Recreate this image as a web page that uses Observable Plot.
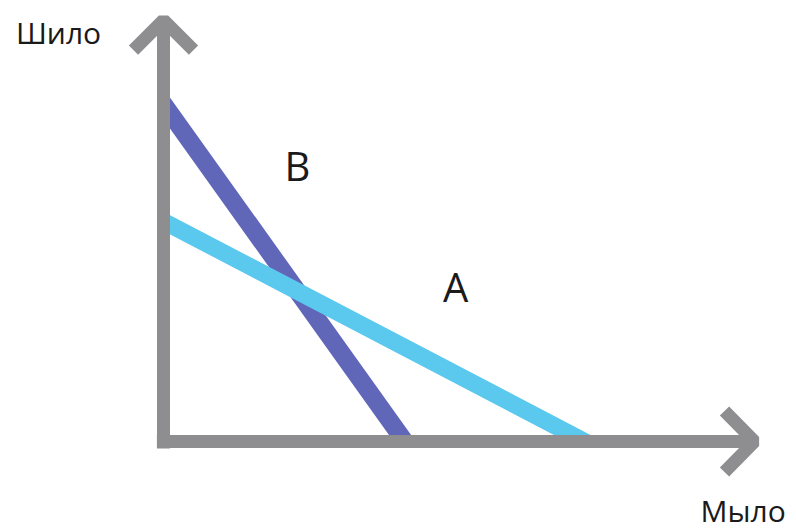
<!DOCTYPE html>
<html>
<head>
<meta charset="utf-8">
<script src="https://cdn.jsdelivr.net/npm/d3@7"></script>
<script src="https://cdn.jsdelivr.net/npm/@observablehq/plot@0.6"></script>
<style>
  html, body { margin: 0; padding: 0; background: #ffffff; }
  #chart svg { display: block; }
</style>
</head>
<body>
<div id="chart"></div>
<script>
// Budget lines (conceptual units): "B" and "A"
const lineB = [{x: -0.3, y: 8.3}, {x: 0, y: 7.85}, {x: 4.02, y: 0}, {x: 4.12, y: -0.2}];
const lineA = [{x: -0.3, y: 5.33}, {x: 0, y: 5.12}, {x: 7.02, y: 0}, {x: 7.22, y: -0.15}];

// Axis arrows
const yAxisShaft = [{x: 0, y: -0.16}, {x: 0, y: 9.8}];
const yAxisHead  = [{x: -0.5, y: 9.1}, {x: 0, y: 9.8}, {x: 0.5, y: 9.1}];
const xAxisShaft = [{x: -0.11, y: 0}, {x: 9.85, y: 0}];
const xAxisHead  = [{x: 9.35, y: 0.71}, {x: 9.85, y: 0}, {x: 9.35, y: -0.71}];

// Labels
const lineLabels = [{x: 2.23, y: 6.36, text: "B"}, {x: 4.87, y: 3.55, text: "A"}];
const axisLabels = [{x: -1.75, y: 9.46, text: "Шило"}, {x: 9.66, y: -1.66, text: "Мыло"}];

const colorB = "#6066b8";
const colorA = "#5bc8ee";
const axisGrey = "#8e8e91";

const chart = Plot.plot({
  width: 796,
  height: 531,
  marginLeft: 163,
  marginRight: 33,
  marginTop: 11,
  marginBottom: 90,
  x: {domain: [0, 10], axis: null},
  y: {domain: [0, 10], axis: null},
  style: {fontFamily: "'Open Sans', sans-serif", background: "#ffffff"},
  marks: [
    Plot.line(lineB, {x: "x", y: "y", stroke: colorB, strokeWidth: 18, clip: true}),
    Plot.line(lineA, {x: "x", y: "y", stroke: colorA, strokeWidth: 17, clip: true}),
    Plot.line(yAxisShaft, {x: "x", y: "y", stroke: axisGrey, strokeWidth: 13, strokeLinecap: "butt"}),
    Plot.line(xAxisShaft, {x: "x", y: "y", stroke: axisGrey, strokeWidth: 13, strokeLinecap: "butt"}),
    Plot.line(yAxisHead, {x: "x", y: "y", stroke: axisGrey, strokeWidth: 13, strokeLinejoin: "miter", strokeLinecap: "butt"}),
    Plot.line(xAxisHead, {x: "x", y: "y", stroke: axisGrey, strokeWidth: 13, strokeLinejoin: "miter", strokeLinecap: "butt"}),
    Plot.text(lineLabels, {x: "x", y: "y", text: "text", fontSize: 40, fill: "#1a1a1a"}),
    Plot.text(axisLabels, {x: "x", y: "y", text: "text", fontSize: 30, fill: "#1a1a1a"})
  ]
});
document.getElementById("chart").appendChild(chart);
</script>
</body>
</html>
